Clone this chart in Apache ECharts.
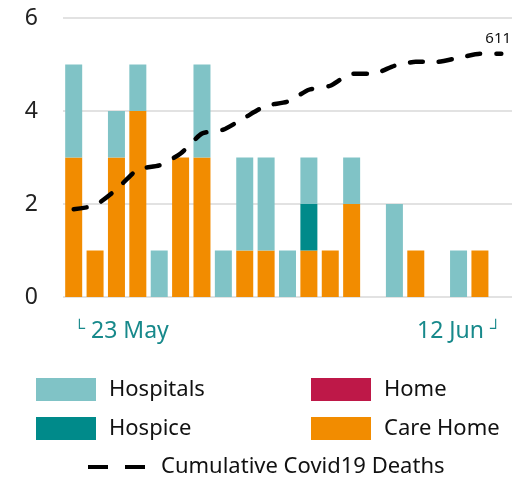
<!DOCTYPE html>
<html>
<head>
<meta charset="utf-8">
<script src="https://cdn.jsdelivr.net/npm/echarts@6/dist/echarts.min.js"></script>
<style>
  html, body { margin: 0; padding: 0; background: #fff; }
  #main { width: 529px; height: 479px; }
</style>
</head>
<body>
<div id="main"></div>
<script>
// daily deaths by place, 23 May .. 12 Jun
var days = ['23 May', '24 May', '25 May', '26 May', '27 May', '28 May', '29 May', '30 May', '31 May',
  '1 Jun', '2 Jun', '3 Jun', '4 Jun', '5 Jun', '6 Jun', '7 Jun', '8 Jun', '9 Jun', '10 Jun', '11 Jun', '12 Jun'];
var careHome  = [3, 1, 3, 4, 0, 3, 3, 0, 1, 1, 0, 1, 1, 2, 0, 0, 1, 0, 0, 1, 0];
var hospice   = [0, 0, 0, 0, 0, 0, 0, 0, 0, 0, 0, 1, 0, 0, 0, 0, 0, 0, 0, 0, 0];
var home      = [0, 0, 0, 0, 0, 0, 0, 0, 0, 0, 0, 0, 0, 0, 0, 0, 0, 0, 0, 0, 0];
var hospitals = [2, 0, 1, 1, 1, 0, 2, 1, 2, 2, 1, 1, 0, 1, 0, 2, 0, 0, 1, 0, 0];
var cumulative = [572, 573, 577, 582, 583, 586, 591, 592, 595, 598, 599, 602, 603, 606, 606, 608, 609, 609, 610, 611, 611];
var yTicks = [0, 2, 4, 6];

var chart = echarts.init(document.getElementById('main'));
var font = 'Noto Sans';
var lastIdx = days.length - 1;

function legendAt(name, left, top, extra) {
  return Object.assign({
    data: [name],
    left: left,
    top: top,
    padding: 0,
    itemWidth: 60,
    itemHeight: 23,
    itemGap: 0,
    selectedMode: false,
    icon: 'rect',
    textStyle: { fontFamily: font, fontSize: 22, color: '#111', padding: [0, 0, 0, 8] }
  }, extra || {});
}

var option = {
  animation: false,
  grid: { left: 63, right: 17, top: 18, bottom: 182 },
  legend: [
    legendAt('Hospitals', 36, 378),
    legendAt('Home', 311, 378),
    legendAt('Hospice', 36, 417),
    legendAt('Care Home', 311, 417),
    legendAt('Cumulative Covid19 Deaths', 86, 456, {
      icon: null,
      itemWidth: 60,
      itemHeight: 22,
      itemStyle: { opacity: 0 },
      lineStyle: { width: 4, type: [20, 17], cap: 'butt', color: '#000' }
    })
  ],
  xAxis: {
    type: 'category',
    data: days,
    axisLine: { show: false },
    axisTick: { show: false },
    axisLabel: {
      interval: 0,
      margin: 23,
      color: '#17898b',
      fontFamily: font,
      fontSize: 23,
      alignMinLabel: 'left',
      alignMaxLabel: 'right',
      formatter: function (v, i) {
        if (i === 0) return '{c|\u2514} ' + v;
        if (i === lastIdx) return v + ' {c|\u2518}';
        return '';
      },
      rich: { c: { fontSize: 16, verticalAlign: 'top', color: '#17898b', padding: [0, 0, 6, 0] } }
    }
  },
  yAxis: [{
    type: 'value',
    min: 0,
    max: 6,
    interval: 2,
    axisLine: { show: false },
    axisTick: { show: false },
    axisLabel: {
      margin: 25,
      color: '#222',
      fontFamily: font,
      fontSize: 23,
      formatter: function (v) { return yTicks.indexOf(v) >= 0 ? v : ''; }
    },
    splitLine: { lineStyle: { color: '#d9d9d9', width: 1.5 } }
  }, {
    type: 'value',
    min: 550,
    max: 620,
    show: false,
    splitLine: { show: false }
  }],
  series: [
    { name: 'Care Home', type: 'bar', stack: 'd', barWidth: 17, data: careHome, itemStyle: { color: '#f28c00' } },
    { name: 'Hospice', type: 'bar', stack: 'd', barWidth: 17, data: hospice, itemStyle: { color: '#008a8a' } },
    { name: 'Home', type: 'bar', stack: 'd', barWidth: 17, data: home, itemStyle: { color: '#be1848' } },
    { name: 'Hospitals', type: 'bar', stack: 'd', barWidth: 17, data: hospitals, itemStyle: { color: '#80c3c6' } },
    {
      name: 'Cumulative Covid19 Deaths',
      type: 'line',
      yAxisIndex: 1,
      data: cumulative,
      symbol: 'none',
      smooth: 0.2,
      z: 5,
      itemStyle: { color: '#000' },
      lineStyle: { color: '#000', width: 4.5, type: [13, 16], cap: 'round' },
      endLabel: {
        show: true,
        formatter: '{c}',
        fontFamily: font,
        fontSize: 15,
        color: '#111',
        offset: [-24, -15]
      }
    }
  ]
};

chart.setOption(option);
</script>
</body>
</html>
